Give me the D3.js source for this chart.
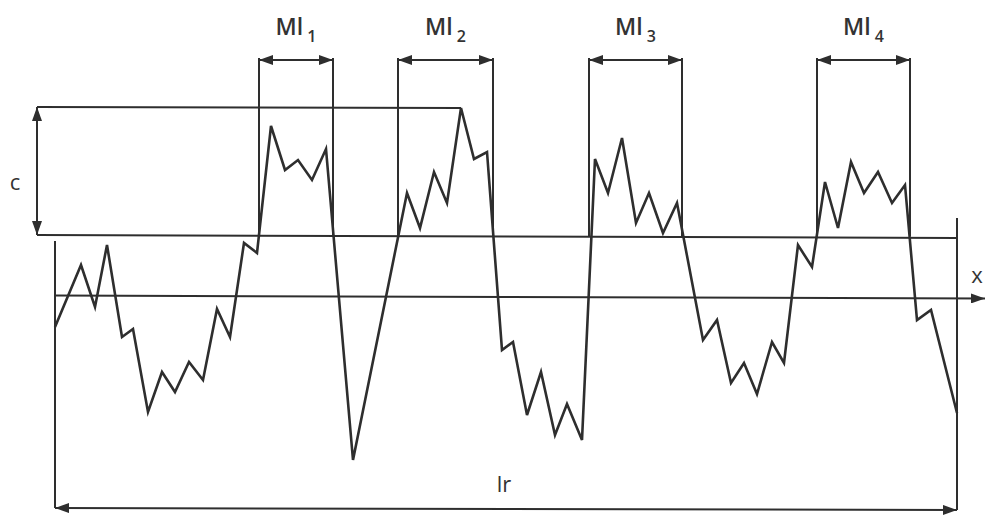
<!DOCTYPE html>
<html>
<head>
<meta charset="utf-8">
<script src="https://cdn.jsdelivr.net/npm/d3@7"></script>
<style>
  body { margin: 0; background: #fff; }
  text { font-family: "Open Sans", sans-serif; fill: #333; }
</style>
</head>
<body>
<script>
// profile: x along the sampling length, h = height above the mean line
var profileX = [0, 26, 40, 52, 67, 78, 93, 107, 120, 134, 148, 162, 175, 189, 202,
  216, 230, 243, 257, 271, 298, 352, 365, 379, 392, 406, 419, 432,
  447, 458, 472, 486, 500, 512, 527, 540, 553, 567, 581, 594, 608, 622,
  648, 662, 676, 689, 702, 717, 729, 743, 757, 770, 783, 796, 809, 823,
  837, 850, 862, 876, 902];
var profileH = [-30, 32, -10, 52, -40, -32, -115, -75, -95, -65, -83, -12, -40, 54, 44,
  171, 127, 137, 117, 148, -163, 104, 69, 125, 94, 189, 138, 145,
  -53, -45, -118, -75, -138, -107, -143, 138, 104, 159, 74, 104, 64, 94,
  -43, -23, -86, -66, -97, -45, -66, 52, 30, 115, 69, 135, 104, 125,
  94, 112, -23, -13, -116];

// element widths Ml_i (start, end)
var mlNames = ["1", "2", "3", "4"];
var mlStart = [204, 343, 534, 762];
var mlEnd = [278, 438, 627, 855];

var lrLength = 902;
var cLevel = 61;      // profile section height level
var peakLevel = 190;  // highest peak
var bracketLevel = 239;
var lrLevel = -211;

var width = 988, height = 515;
var svg = d3.select("body").append("svg")
  .attr("width", width)
  .attr("height", height);

var x = d3.scaleLinear().domain([0, lrLength]).range([55, 957]);
var y = d3.scaleLinear().domain([-170, 200]).range([467, 97]);

var ink = "#2e2e2e";

// arrowheads
var defs = svg.append("defs");
defs.append("marker")
  .attr("id", "arrowEnd")
  .attr("markerUnits", "userSpaceOnUse")
  .attr("viewBox", "0 0 14 10")
  .attr("refX", 14).attr("refY", 5)
  .attr("markerWidth", 14).attr("markerHeight", 10)
  .attr("orient", "auto")
  .append("path").attr("d", "M0,0 L14,5 L0,10 Z").style("fill", ink);
defs.append("marker")
  .attr("id", "arrowStart")
  .attr("markerUnits", "userSpaceOnUse")
  .attr("viewBox", "0 0 14 10")
  .attr("refX", 0).attr("refY", 5)
  .attr("markerWidth", 14).attr("markerHeight", 10)
  .attr("orient", "auto")
  .append("path").attr("d", "M14,0 L0,5 L14,10 Z").style("fill", ink);

function seg(x1, h1, x2, h2, w) {
  return svg.append("line")
    .attr("x1", x(x1)).attr("y1", y(h1))
    .attr("x2", x(x2)).attr("y2", y(h2))
    .style("stroke", ink)
    .style("stroke-width", w || 2);
}

// reference lines
seg(-18, peakLevel, 406, peakLevel - 1);
seg(-18, cLevel + 1, lrLength, cLevel - 2);
seg(0, 1.5, 930, -1.5).attr("marker-end", "url(#arrowEnd)");

// c dimension
seg(-18, peakLevel, -18, cLevel + 1)
  .attr("marker-start", "url(#arrowStart)")
  .attr("marker-end", "url(#arrowEnd)");

// side limits of the sampling length
seg(0, 56, 0, lrLevel);
seg(lrLength, 79, lrLength, lrLevel - 2);

// lr dimension
seg(0, lrLevel, lrLength, lrLevel - 2)
  .attr("marker-start", "url(#arrowStart)")
  .attr("marker-end", "url(#arrowEnd)");

// Ml brackets
mlNames.forEach(function(name, i) {
  seg(mlStart[i], bracketLevel, mlStart[i], cLevel);
  seg(mlEnd[i], bracketLevel, mlEnd[i], cLevel);
  seg(mlStart[i], bracketLevel - 2, mlEnd[i], bracketLevel - 2)
    .attr("marker-start", "url(#arrowStart)")
    .attr("marker-end", "url(#arrowEnd)");

  var t = svg.append("text")
    .attr("x", x((mlStart[i] + mlEnd[i]) / 2))
    .attr("y", 35)
    .attr("text-anchor", "middle")
    .style("font-size", "23px")
    .style("font-weight", 600);
  t.append("tspan").text("Ml");
  t.append("tspan").attr("dx", 4).attr("dy", 7).style("font-size", "16px").text(name);
});

// profile
var pts = profileX.map(function(d, i) { return [d, profileH[i]]; });
svg.append("path")
  .datum(pts)
  .attr("d", d3.line().x(function(d) { return x(d[0]); }).y(function(d) { return y(d[1]); }))
  .style("fill", "none")
  .style("stroke", ink)
  .style("stroke-width", 2.6)
  .style("stroke-linejoin", "miter");

// labels
svg.append("text").attr("x", 15).attr("y", 190).attr("text-anchor", "middle")
  .style("font-size", "22px").text("c");
svg.append("text").attr("x", 977).attr("y", 283).attr("text-anchor", "middle")
  .style("font-size", "22px").text("x");
svg.append("text").attr("x", 504).attr("y", 492).attr("text-anchor", "middle")
  .style("font-size", "22px").text("lr");
</script>
</body>
</html>
